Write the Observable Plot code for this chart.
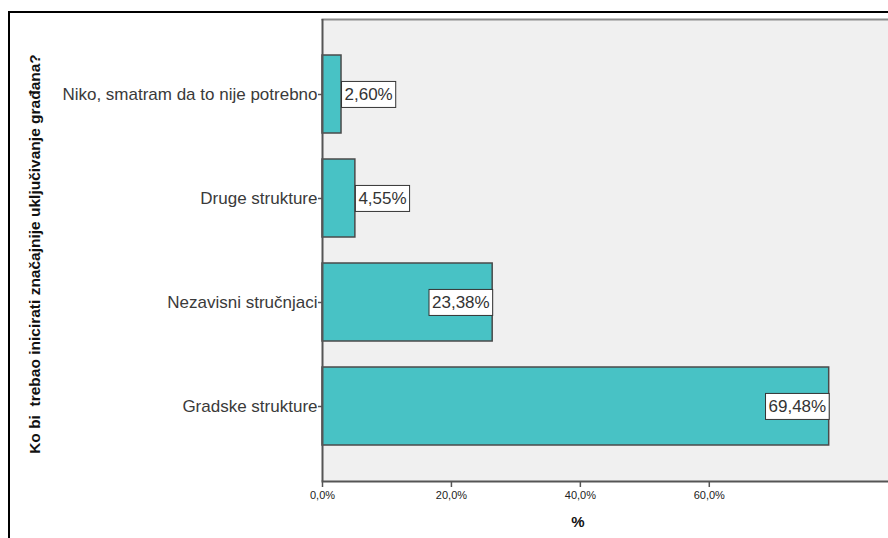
<!DOCTYPE html>
<html>
<head>
<meta charset="utf-8">
<script src="https://cdn.jsdelivr.net/npm/d3@7"></script>
<script src="https://cdn.jsdelivr.net/npm/@observablehq/plot@0.6"></script>
<style>
  html, body { margin: 0; padding: 0; background: #fff; overflow: hidden; width: 888px; height: 538px; }
  body { position: relative; font-family: "Liberation Sans", Arial, sans-serif; }
  #frame { position: absolute; left: 8px; top: 11px; width: 1000px; height: 1000px; border: 2px solid #000; box-sizing: border-box; }
  #chart { position: absolute; left: 0; top: 0; }
  #ytitle { position: absolute; left: 35px; top: 254px; transform: translate(-50%, -50%) rotate(-90deg); white-space: pre; font-weight: bold; font-size: 15.5px; color: #111; }
  #xtitle { position: absolute; left: 578px; top: 521px; transform: translate(-50%, -50%); font-weight: bold; font-size: 15px; color: #111; }
</style>
</head>
<body>
<div id="frame"></div>
<div id="chart"></div>
<div id="ytitle">Ko bi  trebao inicirati značajnije uključivanje građana?</div>
<div id="xtitle">%</div>
<script>
// Categories, top to bottom
const categories = ["Niko, smatram da to nije potrebno", "Druge strukture", "Nezavisni stručnjaci", "Gradske strukture"];
// Bar lengths (%)
const barLengths = [2.95, 5.1, 26.4, 78.6];
// Printed value labels
const valueLabels = ["2,60%", "4,55%", "23,38%", "69,48%"];
// X tick values
const xTicks = [0, 20, 40, 60];

const data = categories.map((c, i) => ({cat: c, len: barLengths[i], label: valueLabels[i], inside: barLengths[i] > 15}));

const chart = Plot.plot({
  width: 888,
  height: 538,
  marginLeft: 322,
  marginRight: 0,
  marginTop: 19,
  marginBottom: 57,
  style: {fontFamily: "'Liberation Sans', Arial, sans-serif", background: "transparent", overflow: "visible"},
  x: {domain: [0, 87.8]},
  y: {domain: categories, paddingInner: 0.25, paddingOuter: 0.346},
  marks: [
    Plot.frame({fill: "#f0f0f0", stroke: null}),
    Plot.frame({anchor: "top", stroke: "#8c8c8c", strokeWidth: 2}),
    Plot.barX(data, {x: "len", y: "cat", fill: "#48c2c5", stroke: "#4a4a4a", strokeWidth: 1.5}),
    Plot.ruleX([0], {stroke: "#555", strokeWidth: 2}),
    Plot.frame({anchor: "bottom", stroke: "#555", strokeWidth: 2}),
    Plot.axisY({tickSize: 4, tickPadding: 1, fontSize: 17, label: null, stroke: "#555", fill: "#3a3a3a", strokeWidth: 1.5}),
    Plot.axisX({ticks: xTicks, tickFormat: d => d.toFixed(1).replace(".", ",") + "%", tickSize: 6, tickPadding: 4, fontSize: 11, label: null, stroke: "#555", fill: "#222", strokeWidth: 1.5}),
    Plot.text(data.filter(d => !d.inside), {x: "len", y: "cat", text: "label", textAnchor: "start", dx: 3, fontSize: 17, fill: "#333"}),
    Plot.text(data.filter(d => d.inside), {x: "len", y: "cat", text: "label", textAnchor: "end", dx: -3, fontSize: 17, fill: "#333"})
  ]
});
document.getElementById("chart").appendChild(chart);

// Draw white boxes behind the value labels
chart.querySelectorAll('g[aria-label="text"]').forEach(g => {
  g.querySelectorAll("text").forEach(t => {
    const b = t.getBBox();
    const cy = b.y + b.height / 2;
    const r = document.createElementNS("http://www.w3.org/2000/svg", "rect");
    r.setAttribute("x", b.x - 3);
    r.setAttribute("y", cy - 13);
    r.setAttribute("width", b.width + 6);
    r.setAttribute("height", 26);
    r.setAttribute("fill", "#fff");
    r.setAttribute("stroke", "#333");
    r.setAttribute("stroke-width", 1);
    const tr = t.getAttribute("transform");
    if (tr) r.setAttribute("transform", tr);
    t.parentNode.insertBefore(r, t);
  });
});
</script>
</body>
</html>
